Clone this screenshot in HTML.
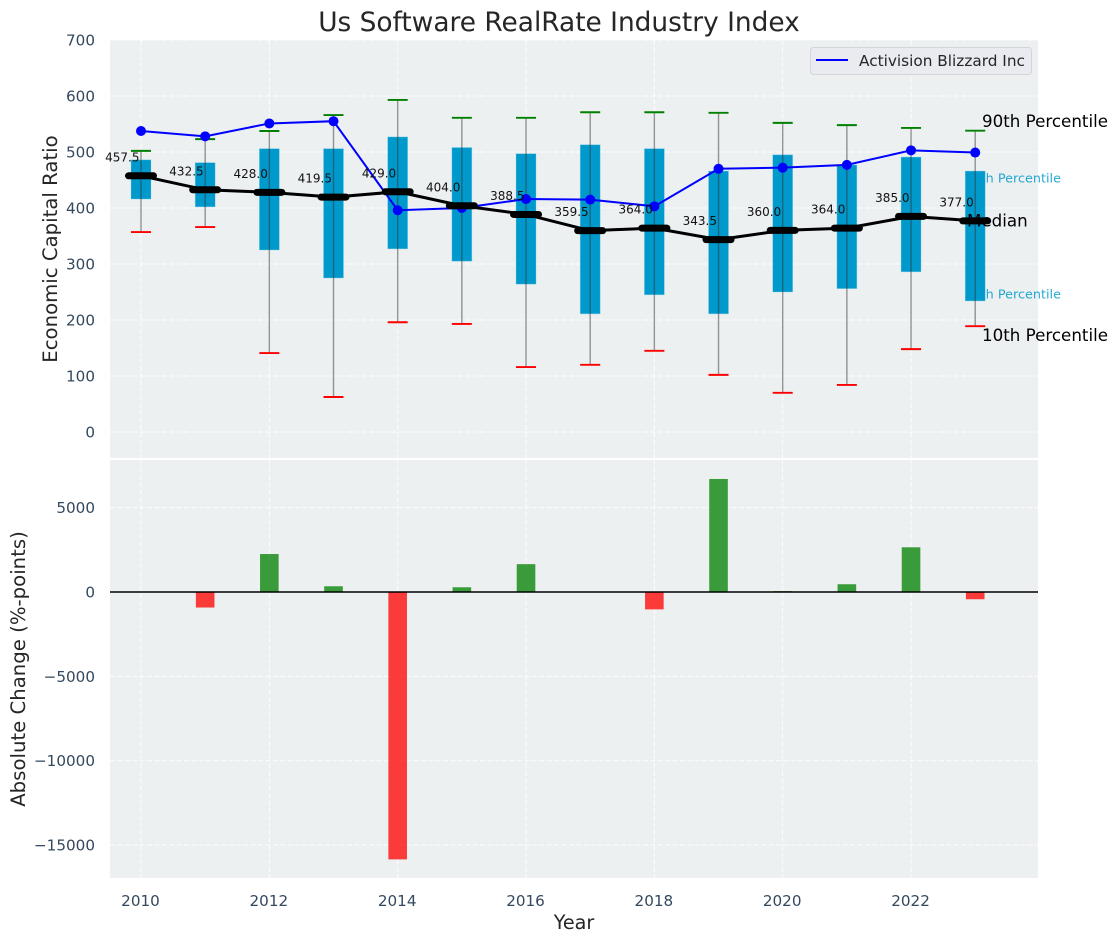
<!DOCTYPE html>
<html lang="en">
<head>
<meta charset="utf-8">
<title>Us Software RealRate Industry Index</title>
<style>
html,body{margin:0;padding:0;background:#fff;}
svg{display:block;font-family:"DejaVu Sans","Liberation Sans",sans-serif;}
</style>
</head>
<body>
<svg id="chart" width="1117" height="942" viewBox="0 0 1117 942" xmlns="http://www.w3.org/2000/svg">
  <rect x="110" y="40" width="928" height="418" fill="#ecf0f1"/>
  <rect x="110" y="460" width="928" height="418" fill="#ecf0f1"/>
  <text x="559" y="31" font-size="26.4" text-anchor="middle" fill="#262626">Us Software RealRate Industry Index</text>
  <text transform="translate(57,249) rotate(-90)" font-size="19.7" text-anchor="middle" fill="#262626">Economic Capital Ratio</text>
  <text transform="translate(25,669) rotate(-90)" font-size="19.7" text-anchor="middle" fill="#262626">Absolute Change (%-points)</text>
  <text x="574" y="929" font-size="19.2" text-anchor="middle" fill="#262626">Year</text>
  <g id="grid"></g>
  <g id="ticks"></g>
  <g id="bottom"></g>
  <line x1="110" x2="1038" y1="592" y2="592" stroke="#000" stroke-width="1.4"/>
  <g id="top"></g>
  <g>
    <rect x="810.5" y="47.5" width="221" height="27" rx="3" fill="#e9ebf0" stroke="#d3d5d8" stroke-width="1"/>
    <line x1="816" x2="848" y1="60" y2="60" stroke="#0000ff" stroke-width="2"/>
    <text x="859" y="66" font-size="15.3" fill="#262626">Activision Blizzard Inc</text>
  </g>
</svg>
<script>
const years = [2010,2011,2012,2013,2014,2015,2016,2017,2018,2019,2020,2021,2022,2023];
const p90 = [502,523,537.5,566,593,561,561,571,571,570,552,548,543,538];
const p75 = [486,481,506,506,527,508,497,513,506,466,495,477,491,466];
const medians = [457.5,432.5,428.0,419.5,429.0,404.0,388.5,359.5,364.0,343.5,360.0,364.0,385.0,377.0];
const p25 = [416,402,325,275,327,305,264,211,245,211,250,256,286,234];
const p10 = [357,366,141,62.5,196,193,116,120,145,102,70,84,148,189];
const company = [537.5,528,551,555,396,400,416,415,403,470,472,477,503,499];
const changes = [0,-920,2250,340,-15850,280,1650,0,-1030,6700,50,460,2650,-430];
const xTicks = [2010,2012,2014,2016,2018,2020,2022];
const topTicks = [0,100,200,300,400,500,600,700];
const bottomTicks = [5000,0,-5000,-10000,-15000];

const NS = 'http://www.w3.org/2000/svg';
const xScale = v => 141 + (v - 2010) * 64.17;
const yTop = v => 432 - v * 0.56;
const yBottom = v => 592 - v * 0.01687;

function make(parent, tag, attrs, text) {
  const el = document.createElementNS(NS, tag);
  for (const k in attrs) el.setAttribute(k, attrs[k]);
  if (text !== undefined) el.textContent = text;
  parent.appendChild(el);
  return el;
}

const gridG = document.getElementById('grid');
const tickG = document.getElementById('ticks');
const topG = document.getElementById('top');
const bottomG = document.getElementById('bottom');
const gridStyle = {stroke:'#ffffff','stroke-width':1,'stroke-dasharray':'5.2 2.2','stroke-opacity':0.85};

xTicks.forEach(t => {
  for (const [a, b] of [[40, 458], [460, 878]]) {
    const el = make(gridG, 'line', {x1:xScale(t), x2:xScale(t), y1:a, y2:b, ...gridStyle});
    
    
  }
  const lab = make(tickG, 'text', {x:xScale(t) - 0.5, y:906, 'font-size':15.2, 'text-anchor':'middle', fill:'#34495e'}, String(t));
  
  
});

topTicks.forEach(t => {
  const el = make(gridG, 'line', {x1:110, x2:1038, y1:yTop(t), y2:yTop(t), ...gridStyle});
  
  
  const lab = make(tickG, 'text', {x:95, y:yTop(t) + 5.5, 'font-size':15.2, 'text-anchor':'end', fill:'#34495e'}, String(t));
  
  
});

bottomTicks.forEach(t => {
  const el = make(gridG, 'line', {x1:110, x2:1038, y1:yBottom(t), y2:yBottom(t), ...gridStyle});
  
  
  const lab = make(tickG, 'text', {x:95, y:yBottom(t) + 5.5, 'font-size':15.2, 'text-anchor':'end', fill:'#34495e'}, String(t).replace('-', '\u2212'));
  
  
});

years.forEach((y, i) => {
  const v = changes[i];
  if (v === 0) return;
  const a = yBottom(Math.max(v, 0));
  const b = yBottom(Math.min(v, 0));
  const bar = make(bottomG, 'rect', {x:xScale(y) - 9.3, y:a, width:18.6, height:b - a, fill:v > 0 ? '#008000' : '#ff0000', 'fill-opacity':0.76});
  
  
});

const l75 = make(topG, 'text', {x:1061, y:182.5, 'font-size':12.8, 'text-anchor':'end', fill:'#0099cc', 'fill-opacity':0.85}, '75th Percentile');


const l25 = make(topG, 'text', {x:1061, y:298.5, 'font-size':12.8, 'text-anchor':'end', fill:'#0099cc', 'fill-opacity':0.85}, '25th Percentile');



years.forEach((y, i) => {
  const cx = xScale(y);
  const box = make(topG, 'rect', {x:cx - 10, y:yTop(p75[i]), width:20, height:yTop(p25[i]) - yTop(p75[i]), fill:'#0099cc', stroke:'#8fd3ea', 'stroke-opacity':0.5, 'stroke-width':0.7});
  
  
  const whisker = make(topG, 'line', {x1:cx, x2:cx, y1:yTop(p90[i]), y2:yTop(p10[i]), stroke:'#333', 'stroke-opacity':0.5, 'stroke-width':1.4});
  
  
  const hi = make(topG, 'line', {x1:cx - 10, x2:cx + 10, y1:yTop(p90[i]), y2:yTop(p90[i]), stroke:'#008000', 'stroke-width':1.9});
  
  
  const lo = make(topG, 'line', {x1:cx - 10, x2:cx + 10, y1:yTop(p10[i]), y2:yTop(p10[i]), stroke:'#ff0000', 'stroke-width':1.9});
  
  
});

const companyLine = make(topG, 'polyline', {points:years.map((y, i) => xScale(y) + ',' + yTop(company[i])).join(' '), fill:'none', stroke:'#0000ff', 'stroke-width':2});


years.forEach((y, i) => {
  const dot = make(topG, 'circle', {cx:xScale(y), cy:yTop(company[i]), r:5, fill:'#0000ff'});
  
  
});

const medianLine = make(topG, 'polyline', {points:years.map((y, i) => xScale(y) + ',' + yTop(medians[i])).join(' '), fill:'none', stroke:'#000', 'stroke-width':3});


years.forEach((y, i) => {
  const cx = xScale(y);
  const cy = yTop(medians[i]);
  const mark = make(topG, 'line', {x1:cx - 12.5, x2:cx + 12.5, y1:cy, y2:cy, stroke:'#000', 'stroke-width':7, 'stroke-linecap':'round'});
  
  
  const lab = make(topG, 'text', {x:cx - 1.5, y:cy - 14.5, 'font-size':12, 'text-anchor':'end', fill:'#111'}, medians[i].toFixed(1));
  
  
});

const l90 = make(topG, 'text', {x:982, y:127, 'font-size':16.7, fill:'#000'}, '90th Percentile');


const l10 = make(topG, 'text', {x:982, y:341, 'font-size':16.7, fill:'#000'}, '10th Percentile');


const lm = make(topG, 'text', {x:967, y:226.5, 'font-size':16.7, fill:'#000'}, 'Median');


</script>
</body>
</html>
